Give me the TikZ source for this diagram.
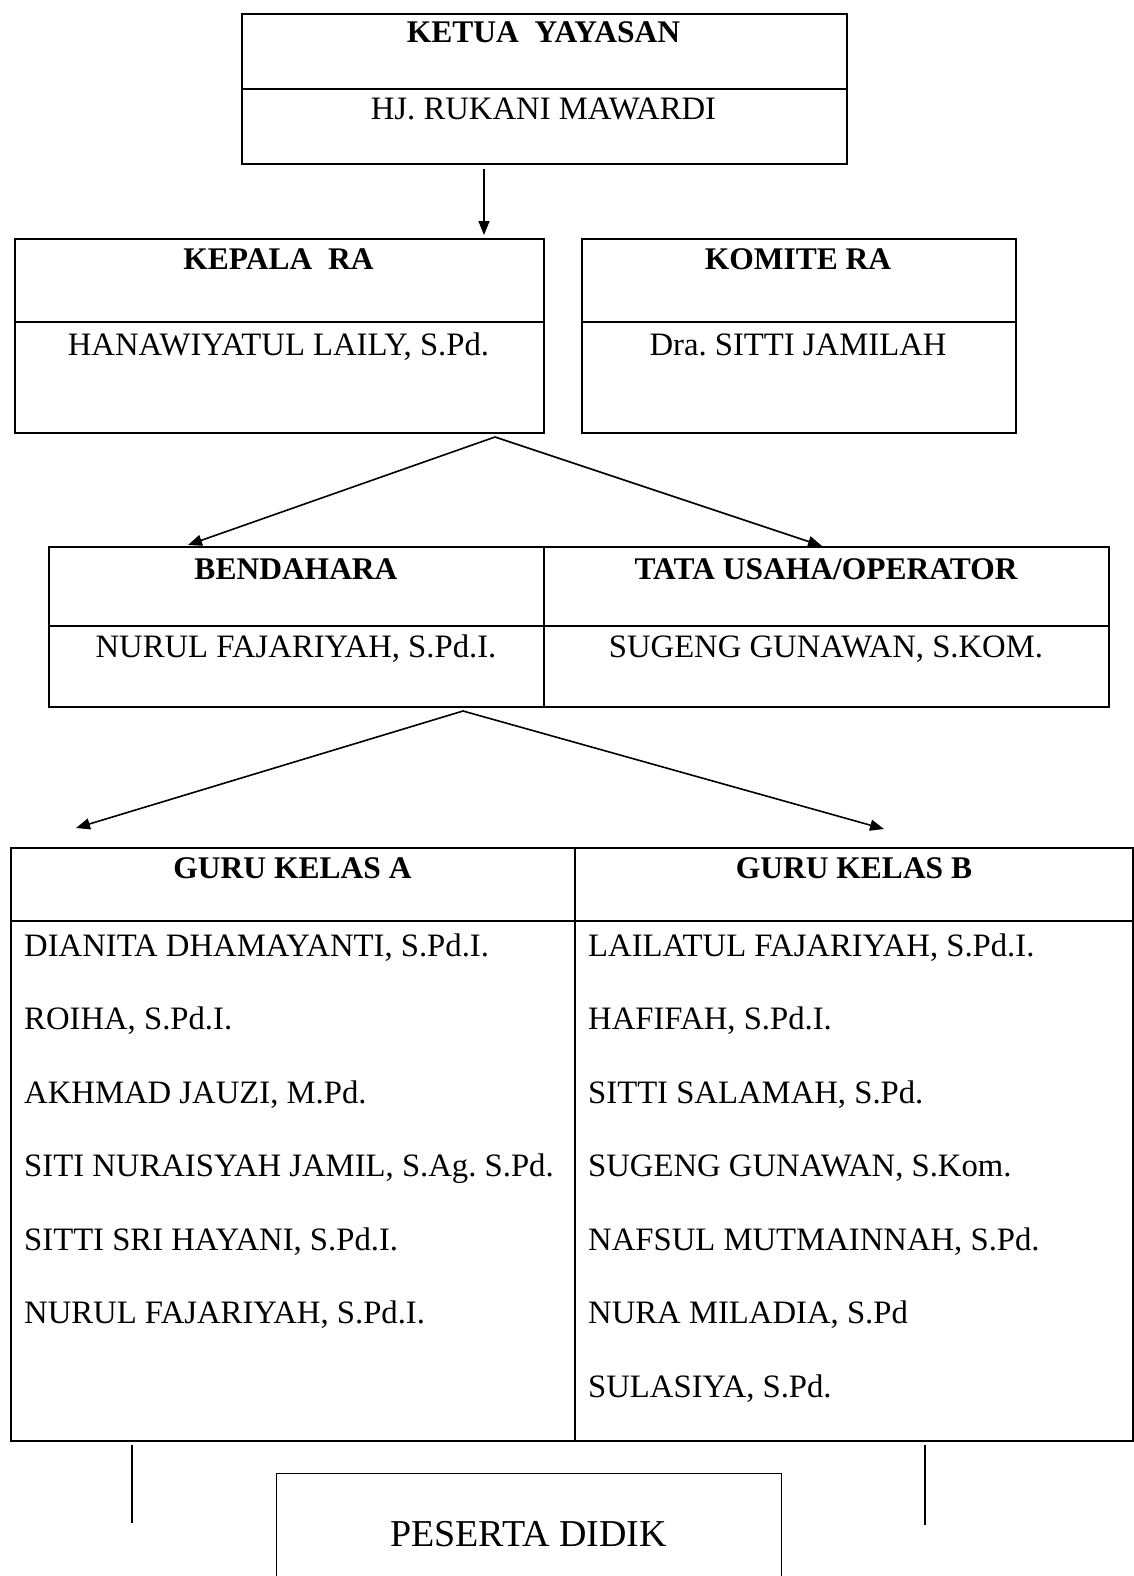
\documentclass[tikz,border=0pt]{standalone}
\usepackage{fontspec}
\setmainfont{Liberation Serif}
\usetikzlibrary{arrows.meta}
\frenchspacing

\begin{document}
\begin{tikzpicture}[x=1pt,y=-1pt]
\tikzstyle{every node}+=[inner sep=0pt]
\tikzstyle{kotak}=[draw,line width=2pt,anchor=north west]
\tikzstyle{garis}=[line width=2pt]
\tikzstyle{judul}=[anchor=base,font=\fontsize{31.5}{36}\selectfont\bfseries]
\tikzstyle{isi}=[anchor=base,font=\fontsize{32.7}{38}\selectfont]
\tikzstyle{panah}=[line width=1.6pt,-{Triangle[length=14pt,width=11pt]}]
\useasboundingbox (0,0) rectangle (1134,1576);

% ketua yayasan
\node[kotak,minimum width=605pt,minimum height=150pt] (ketua) at (241,13) {};
\draw[garis] (241,89) -- (846,89);
\node[judul] (ketuaJ) at (543.5,43) {KETUA\ \ YAYASAN};
\node[isi] (ketuaN) at (543.5,120) {HJ. RUKANI MAWARDI};

% kepala dan komite
\node[kotak,minimum width=529pt,minimum height=194pt] (kepala) at (14,238) {};
\draw[garis] (14,322) -- (543,322);
\node[judul] (kepalaJ) at (278.5,269) {KEPALA\ \ RA};
\node[isi] (kepalaN) at (278.5,355) {HANAWIYATUL LAILY, S.Pd.};
\node[kotak,minimum width=434pt,minimum height=194pt] (komite) at (581,238) {};
\draw[garis] (581,322) -- (1015,322);
\node[judul] (komiteJ) at (798,269) {KOMITE RA};
\node[isi] (komiteN) at (798,355) {Dra. SITTI JAMILAH};

% bendahara dan tata usaha
\node[kotak,minimum width=1060pt,minimum height=160pt] (staf) at (48,546) {};
\draw[garis] (48,626) -- (1108,626);
\draw[garis] (544,546) -- (544,706);
\node[judul] (bendJ) at (296,579) {BENDAHARA};
\node[isi] (bendN) at (296,657) {NURUL FAJARIYAH, S.Pd.I.};
\node[judul] (tuJ) at (826,579) {TATA USAHA/OPERATOR};
\node[isi] (tuN) at (826,657) {SUGENG GUNAWAN, S.KOM.};

% guru kelas
\node[kotak,minimum width=1122pt,minimum height=593pt] (guru) at (10,847) {};
\draw[garis] (10,921) -- (1132,921);
\draw[garis] (575,847) -- (575,1440);
\node[judul] (guruAJ) at (292.5,878) {GURU KELAS A};
\node[judul] (guruBJ) at (854,878) {GURU KELAS B};
\foreach \nama [count=\i] in {{DIANITA DHAMAYANTI, S.Pd.I.},{ROIHA, S.Pd.I.},{AKHMAD JAUZI, M.Pd.},{SITI NURAISYAH JAMIL, S.Ag. S.Pd.},{SITTI SRI HAYANI, S.Pd.I.},{NURUL FAJARIYAH, S.Pd.I.}}
  \node[isi,anchor=base west] (guruA\i) at (24,{956+73.5*(\i-1)}) {\nama};
\foreach \nama [count=\i] in {{LAILATUL FAJARIYAH, S.Pd.I.},{HAFIFAH, S.Pd.I.},{SITTI SALAMAH, S.Pd.},{SUGENG GUNAWAN, S.Kom.},{NAFSUL MUTMAINNAH, S.Pd.},{NURA MILADIA, S.Pd},{SULASIYA, S.Pd.}}
  \node[isi,anchor=base west] (guruB\i) at (588,{956+73.5*(\i-1)}) {\nama};

% peserta didik
\node[draw,line width=1.2pt,anchor=north west,minimum width=505pt,minimum height=140pt] (peserta) at (276,1473) {};
\node[isi,font=\fontsize{38}{44}\selectfont] (pesertaN) at (528.5,1546) {PESERTA DIDIK};

% panah
\coordinate (p1) at (484,169);
\coordinate (p2) at (484,235);
\draw[panah] (p1) -- (p2);
\coordinate (p3) at (495,437);
\coordinate (p4) at (188,545);
\coordinate (p5) at (822,546);
\draw[panah] (p3) -- (p4);
\draw[panah] (p3) -- (p5);
\coordinate (p6) at (463,711);
\coordinate (p7) at (76,828);
\coordinate (p8) at (884,829);
\draw[panah] (p6) -- (p7);
\draw[panah] (p6) -- (p8);

% garis bawah
\coordinate (g1) at (132,1445);
\coordinate (g2) at (132,1523);
\coordinate (g3) at (925,1445);
\coordinate (g4) at (925,1525);
\draw[line width=1.2pt] (g1) -- (g2);
\draw[line width=1.2pt] (g3) -- (g4);
\end{tikzpicture}
\end{document}
